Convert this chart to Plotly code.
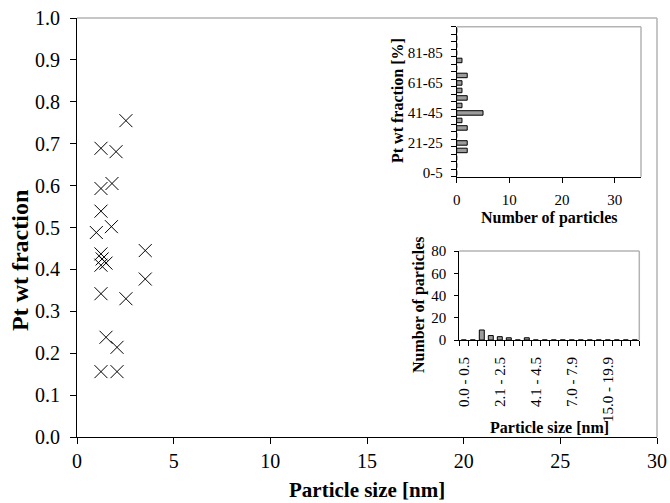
import plotly.graph_objects as go

# ---------------- data ----------------
size_nm = [2.53, 1.24, 2.02, 1.81, 1.24, 1.24, 1.78, 1.00, 3.53, 3.53,
           1.24, 1.30, 1.50, 1.24, 1.24, 2.53, 1.50, 2.07, 1.24, 2.07]
pt_frac = [0.755, 0.689, 0.681, 0.605, 0.593, 0.539, 0.502, 0.488, 0.445, 0.377,
           0.437, 0.425, 0.415, 0.410, 0.342, 0.330, 0.238, 0.214, 0.156, 0.156]

frac_bins = ["0-5", "6-10", "11-15", "16-20", "21-25", "26-30", "31-35", "36-40",
             "41-45", "46-50", "51-55", "56-60", "61-65", "66-70", "71-75", "76-80",
             "81-85", "86-90", "91-95", "96-100"]
frac_counts = [0, 0, 0, 2, 2, 0, 2, 1, 5, 1, 2, 1, 1, 2, 0, 1, 0, 0, 0, 0]

size_bins = ["0.0 - 0.5", "0.6 - 1.0", "1.1 - 1.5", "1.6 - 2.0", "2.1 - 2.5",
             "2.6 - 3.0", "3.1 - 3.5", "3.6 - 4.0", "4.1 - 4.5", "4.6 - 5.0",
             "5.1 - 5.9", "6.0 - 6.9", "7.0 - 7.9", "8.0 - 8.9", "9.0 - 9.9",
             "10.0 - 14.9", "15.0 - 19.9", "20.0 - 24.9", "25.0 - 29.9", "30.0 - 34.9"]
size_counts = [0, 0, 9, 4, 3, 2, 0, 2, 0, 0, 0, 0, 0, 0, 0, 0, 0, 0, 0, 0]

# ---------------- layout helpers ----------------
W, H = 670, 503
ML, MR, MT, MB = 77, 13, 18, 66
PW, PH = W - ML - MR, H - MT - MB


def px(x):
    return (x - ML) / PW


def py(y):
    return (H - MB - y) / PH


FONT = "Liberation Serif, Times New Roman, serif"
GRAY = "#b3b3b3"
BAR_FILL = "#9c9c9c"

frac_idx = list(range(len(frac_bins)))
size_idx = list(range(len(size_bins)))
bounds_f = [i - 0.5 for i in range(len(frac_bins) + 1)]
bounds_s = [i - 0.5 for i in range(len(size_bins) + 1)]

fig = go.Figure()

fig.add_trace(go.Scatter(
    x=size_nm, y=pt_frac, mode="markers",
    marker=dict(symbol="x-thin", size=13, color="black",
                line=dict(color="black", width=1)),
    xaxis="x", yaxis="y", showlegend=False, hoverinfo="x+y"))

fig.add_trace(go.Bar(
    x=frac_counts, y=frac_idx, orientation="h",
    marker=dict(color=BAR_FILL, line=dict(color="black", width=1)),
    xaxis="x2", yaxis="y2", showlegend=False, width=0.6))

fig.add_trace(go.Bar(
    x=size_idx, y=size_counts,
    marker=dict(color=BAR_FILL, line=dict(color="black", width=1)),
    xaxis="x3", yaxis="y3", showlegend=False, width=0.55))

tickfont_main = dict(family=FONT, size=20, color="black")
tickfont_in = dict(family=FONT, size=15, color="black")

fig.update_layout(
    width=W, height=H,
    margin=dict(l=ML, r=MR, t=MT, b=MB, autoexpand=False),
    paper_bgcolor="white", plot_bgcolor="white",
    font=dict(family=FONT, color="black"),
    xaxis=dict(domain=[0, 1], range=[0, 30], tickvals=[0, 5, 10, 15, 20, 25, 30],
               ticks="outside", ticklen=6, tickcolor="black", showline=True,
               linecolor="black", linewidth=1, showgrid=False, zeroline=False,
               tickfont=tickfont_main, anchor="y"),
    yaxis=dict(domain=[0, 1], range=[0, 1], tickvals=[i / 10 for i in range(11)],
               tickformat=".1f", ticks="outside", ticklen=6, tickcolor="black",
               ticklabelstandoff=6,
               showline=True, linecolor="black", linewidth=1, showgrid=False,
               zeroline=False, tickfont=tickfont_main, anchor="x"),
    xaxis2=dict(domain=[px(456.7), px(641)], range=[0, 35], tickvals=[0, 10, 20, 30],
                ticks="outside", ticklen=5, tickcolor="black", showline=True,
                ticklabelstandoff=4,
                linecolor="black", linewidth=1, showgrid=False, zeroline=False,
                tickfont=tickfont_in, anchor="y2"),
    yaxis2=dict(domain=[py(176.7), py(26.7)], range=[-0.5, len(frac_bins) - 0.5],
                tickvals=frac_idx[::4], ticktext=frac_bins[::4], ticks="",
                ticklabelstandoff=10,
                minor=dict(tickmode="array", tickvals=bounds_f, ticks="outside",
                           ticklen=5, tickcolor="black", showgrid=False),
                showline=True, linecolor="black", linewidth=1, showgrid=False,
                zeroline=False, tickfont=tickfont_in, anchor="x2"),
    xaxis3=dict(domain=[px(459.3), px(639.3)], range=[-0.5, len(size_bins) - 0.5],
                tickvals=size_idx[::4], ticktext=size_bins[::4], ticks="",
                tickangle=-90, ticklabelstandoff=10,
                minor=dict(tickmode="array", tickvals=bounds_s, ticks="outside",
                           ticklen=5, tickcolor="black", showgrid=False),
                showline=True, linecolor="black", linewidth=1, showgrid=False,
                zeroline=False, tickfont=tickfont_in, anchor="y3"),
    yaxis3=dict(domain=[py(340), py(251)], range=[0, 80], tickvals=[0, 20, 40, 60, 80],
                ticks="outside", ticklen=4, tickcolor="black", showline=True,
                ticklabelstandoff=5,
                linecolor="black", linewidth=1, showgrid=False, zeroline=False,
                tickfont=tickfont_in, anchor="x3"),
    bargap=0.4,
)

# gray plot-area frames (top and right edges)
for xa, ya in (("x", "y"), ("x2", "y2"), ("x3", "y3")):
    fig.add_shape(type="line", xref=f"{xa} domain", yref=f"{ya} domain",
                  x0=0, x1=1, y0=1, y1=1, line=dict(color=GRAY, width=1.5))
    fig.add_shape(type="line", xref=f"{xa} domain", yref=f"{ya} domain",
                  x0=1, x1=1, y0=0, y1=1, line=dict(color=GRAY, width=1.5))

bold_main = dict(family=FONT, size=21, color="black")
bold_in = dict(family=FONT, size=16, color="black")


def title(text, x, y, font, angle=0):
    fig.add_annotation(text=f"<b>{text}</b>", x=px(x), y=py(y), xref="paper",
                       yref="paper", showarrow=False, textangle=angle, font=font,
                       xanchor="center", yanchor="middle")


title("Particle size [nm]", 367, 490, bold_main)
title("Pt wt fraction", 20, 261, dict(family=FONT, size=24, color="black"), -90)
title("Number of particles", 549, 218, bold_in)
title("Pt wt fraction [%]", 397, 101, bold_in, -90)
title("Particle size [nm]", 549, 427, bold_in)
title("Number of particles", 419, 305, bold_in, -90)

fig.write_html("out.html")
